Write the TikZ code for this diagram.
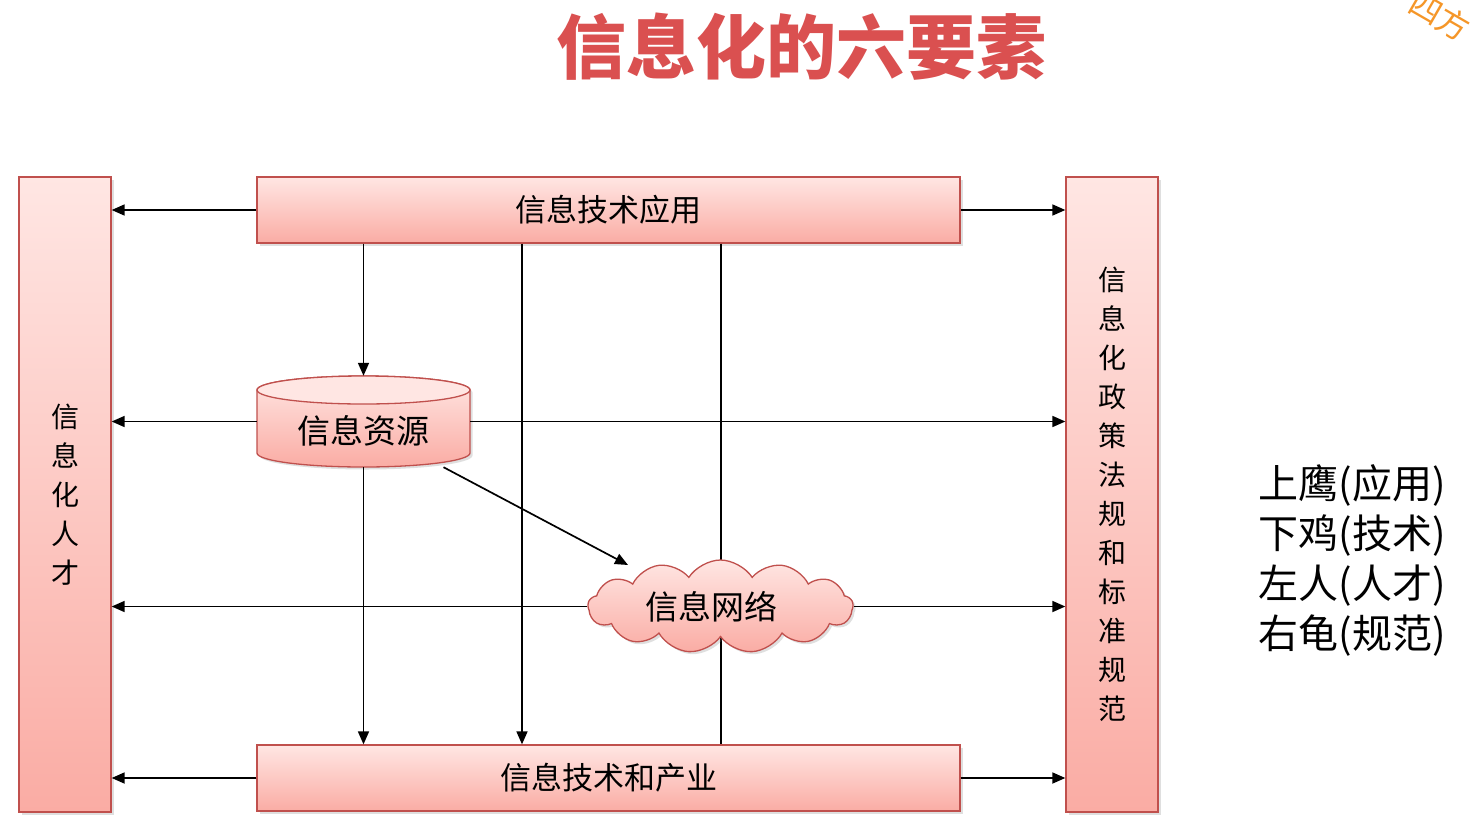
\documentclass[tikz,border=0pt]{standalone}
\usepackage{fontspec}
\setmainfont{Noto Sans CJK SC}
\usetikzlibrary{arrows.meta,shapes.symbols,shadows,calc}
\definecolor{boxdraw}{RGB}{192,80,77}
\definecolor{boxtop}{RGB}{255,230,227}
\definecolor{boxbot}{RGB}{250,172,164}
\definecolor{titlered}{RGB}{218,80,80}
\definecolor{wmorange}{RGB}{245,150,40}
\begin{document}
\begin{tikzpicture}[x=1pt,y=-1pt,
  pinkbox/.style={rectangle, draw=boxdraw, line width=1.3pt, top color=boxtop, bottom color=boxbot,
    drop shadow={shadow xshift=2.5pt,shadow yshift=-2.5pt,opacity=0.25}, inner sep=0pt},
  conn/.style={line width=1.7pt, -{Triangle[length=13pt,width=11pt]}},
  plainline/.style={line width=1.7pt},
]
\useasboundingbox (0,0) rectangle (1484,823);
\clip (0,0) rectangle (1484,823);
\fill[white] (0,0) rectangle (1484,823);

% title
\node[text=titlered, font=\fontsize{70}{70}\selectfont\bfseries] (title) at (801,47) {信息化的六要素};

% watermark
\node[rotate=-30, text=wmorange, font=\fontsize{32}{32}\selectfont] (wm) at (1440,16) {四方};

% side boxes
\node[pinkbox, minimum width=92pt, minimum height=635pt, align=center,
      font=\fontsize{28}{39}\selectfont] (talent) at (65,494.5) {信\\息\\化\\人\\才};
\node[pinkbox, minimum width=92pt, minimum height=635pt, align=center,
      font=\fontsize{28}{39}\selectfont] (policy) at (1112,494.5)
      {信\\息\\化\\政\\策\\法\\规\\和\\标\\准\\规\\范};

% top and bottom boxes
\node[pinkbox, minimum width=703pt, minimum height=66pt,
      font=\fontsize{31}{31}\selectfont] (app) at (608.5,210) {信息技术应用};
\node[pinkbox, minimum width=703pt, minimum height=66pt,
      font=\fontsize{31}{31}\selectfont] (ind) at (608.5,778) {信息技术和产业};

% cylinder
\path[draw=boxdraw, line width=1.3pt, top color=boxtop, bottom color=boxbot,
      drop shadow={shadow xshift=2.5pt,shadow yshift=-2.5pt,opacity=0.25}]
  (257,390) -- (257,453) arc[start angle=180,end angle=360,x radius=106.5pt,y radius=14pt]
  -- (470,390) arc[start angle=0,end angle=180,x radius=106.5pt,y radius=14pt] -- cycle;
\draw[draw=boxdraw, line width=1.3pt, fill=boxtop] (363.5,390) ellipse [x radius=106.5pt, y radius=14pt];
\node[rectangle, inner sep=0pt, minimum width=213pt, minimum height=91pt] (res) at (363.5,421.5) {};
\node[font=\fontsize{33}{33}\selectfont] (reslabel) at ($(res.center)+(0,9)$) {信息资源};

% vertical line behind the cloud
\coordinate (v2) at (522,0);
\coordinate (v3) at (721,0);
\draw[plainline] (v3 |- app.south) -- (v3 |- ind.north);

% cloud
\node[cloud, cloud puffs=13, cloud puff arc=115, aspect=2.85, draw=boxdraw, line width=1.3pt,
      top color=boxtop, bottom color=boxbot, minimum width=265pt, minimum height=93pt, inner sep=0pt,
      drop shadow={shadow xshift=2.5pt,shadow yshift=-2.5pt,opacity=0.25}] (net) at (720.5,606.5) {};
\node[font=\fontsize{33}{33}\selectfont] (netlabel) at ($(net.center)+(-9,0)$) {信息网络};

% horizontal connectors
\draw[conn] (app.west) -- (app.west -| talent.east);
\draw[conn] (app.east) -- (app.east -| policy.west);
\draw[conn] (res.west) -- (res.west -| talent.east);
\draw[conn] (res.east) -- (res.east -| policy.west);
\draw[conn] (net.west) -- (net.west -| talent.east);
\draw[conn] (net.east) -- (net.east -| policy.west);
\draw[conn] (ind.west) -- (ind.west -| talent.east);
\draw[conn] (ind.east) -- (ind.east -| policy.west);

% vertical connectors
\draw[conn] (res.north |- app.south) -- (res.north);
\draw[conn] (res.south) -- (res.south |- ind.north);
\draw[conn] (v2 |- app.south) -- (v2 |- ind.north);

% diagonal
\coordinate (dstart) at ($(res.south)!0.75!(res.south east)$);
\coordinate (netin) at (628,565);
\draw[conn] (dstart) -- (netin);

% mnemonic
\node[anchor=west, align=left, font=\fontsize{40}{50}\selectfont] (mnemo) at (1255,560)
  {上鹰(应用)\\下鸡(技术)\\左人(人才)\\右龟(规范)};
\end{tikzpicture}
\end{document}
